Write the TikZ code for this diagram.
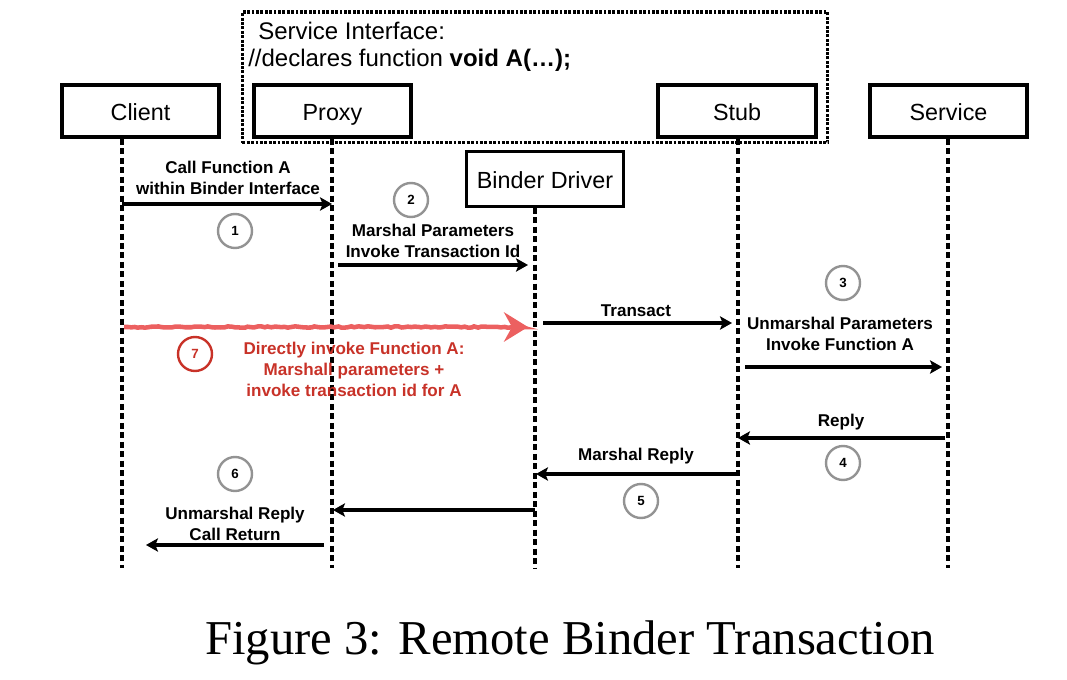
\documentclass[tikz,border=0pt]{standalone}
\usepackage{fontspec}
\setmainfont{Liberation Sans}
\newfontfamily\capfont{Liberation Serif}
\usetikzlibrary{arrows.meta,positioning,decorations.pathmorphing}
\definecolor{stepred}{RGB}{200,50,40}
\definecolor{sketchred}{RGB}{236,96,96}

\begin{document}
\begin{tikzpicture}[
      x=0.75pt, y=-0.75pt,
      actor/.style = {rectangle, draw=black, line width=2.8pt, minimum width=118pt, minimum height=39pt, inner sep=0pt, text height=15pt, text depth=1pt, font=\fontsize{17.5}{20}\selectfont},
      lifeline/.style = {line width=2.6pt, dash pattern=on 4.5pt off 2.6pt},
      msg/.style = {-{Stealth[length=9pt,width=10pt,inset=2pt]}, line width=2.9pt},
      lbl/.style = {align=center, inner sep=0pt, font=\bfseries\fontsize{12.8}{15.75}\selectfont},
      num/.style = {circle, draw=gray!85, line width=1.8pt, minimum size=25.5pt, inner sep=0pt, font=\bfseries\fontsize{10}{12}\selectfont}
    ]
    \useasboundingbox (0,0) rectangle (1067,680);

    % service interface frame
    \node[draw, line width=2.5pt, dash pattern=on 2.2pt off 1.1pt, minimum width=439pt, minimum height=98pt, inner sep=0pt] (iface) at (535,77.5) {};
    \node[anchor=west, inner sep=0pt, font=\fontsize{18}{21}\selectfont] (ifaceA) at (258,31) {Service Interface:};
    \node[anchor=west, inner sep=0pt, font=\fontsize{18}{21}\selectfont] (ifaceB) at (248,60) {//declares function \textbf{void A(…);}};

    % participants
    \node[actor] (client)  at (140.5,111) {Client};
    \node[actor] (proxy)   at (332.5,111) {Proxy};
    \node[actor] (stub)    at (737,111)   {Stub};
    \node[actor] (service) at (948.5,111) {Service};
    \node[actor, line width=2.2pt, minimum height=41pt] (binder) at (545,179) {Binder Driver};

    % lifelines
    \coordinate (clientEnd)  at (122,568);
    \coordinate (proxyEnd)   at (332,568);
    \coordinate (binderEnd)  at (535,568);
    \coordinate (stubEnd)    at (738,568);
    \coordinate (serviceEnd) at (948,568);
    \draw[lifeline] (client.south -| clientEnd) -- (clientEnd);
    \draw[lifeline] (proxy.south -| proxyEnd) -- (proxyEnd);
    \draw[lifeline] (binder.south -| binderEnd) -- (binderEnd);
    \draw[lifeline] (stub.south -| stubEnd) -- (stubEnd);
    \draw[lifeline] (service.south -| serviceEnd) -- (serviceEnd);

    % message ends
    \coordinate (m1a) at (122,204);  \coordinate (m1b) at (332,204);
    \coordinate (m2a) at (338,265);  \coordinate (m2b) at (528,265);
    \coordinate (m3a) at (543,323);  \coordinate (m3b) at (732,323);
    \coordinate (m4a) at (745,367);  \coordinate (m4b) at (942,367);
    \coordinate (m5a) at (945,438);  \coordinate (m5b) at (738,438);
    \coordinate (m6a) at (738,474);  \coordinate (m6b) at (536,474);
    \coordinate (m7a) at (535,510);  \coordinate (m7b) at (333,510);
    \coordinate (m8a) at (324,545);  \coordinate (m8b) at (146,545);
    \coordinate (m9a) at (124,327);  \coordinate (m9b) at (528,327);

    \draw[msg] (m1a) -- (m1b);
    \draw[msg] (m2a) -- (m2b);
    \draw[msg] (m3a) -- (m3b);
    \draw[msg] (m4a) -- (m4b);
    \draw[msg] (m5a) -- (m5b);
    \draw[msg] (m6a) -- (m6b);
    \draw[msg] (m7a) -- (m7b);
    \draw[msg] (m8a) -- (m8b);
    \draw[sketchred, line width=3.4pt, -{Stealth[length=18pt,width=22pt,inset=6pt]},
          decorate, decoration={random steps, segment length=2.5pt, amplitude=0.5pt, pre length=3pt, post length=6pt}] (m9a) -- (m9b);

    % labels
    \node[lbl] (l1) at (228,178) {Call Function A\\within Binder Interface};
    \node[lbl] (l2) at (433,241) {Marshal Parameters\\Invoke Transaction Id};
    \node[lbl] (l3) at (636,311) {Transact};
    \node[lbl] (l4) at (840,334) {Unmarshal Parameters\\Invoke Function A};
    \node[lbl] (l5) at (841,422) {Reply};
    \node[lbl] (l6) at (636,456) {Marshal Reply};
    \node[lbl] (l7) at (235,524) {Unmarshal Reply\\Call Return};
    \node[lbl, text=stepred] (l8) at (354,369) {Directly invoke Function A:\\Marshall parameters +\\invoke transaction id for A};

    % step numbers
    \node[num] (n1) at (235,231) {1};
    \node[num] (n2) at (411,200) {2};
    \node[num] (n3) at (843,283) {3};
    \node[num] (n4) at (843,463) {4};
    \node[num] (n5) at (641,501) {5};
    \node[num] (n6) at (235,474) {6};
    \node[num, draw=stepred, text=stepred] (n7) at (195,354) {7};

    \node[font=\capfont\fontsize{36.5}{40}\selectfont] (caption) at (570,643) {Figure 3: Remote Binder Transaction};
  \end{tikzpicture}
\end{document}
